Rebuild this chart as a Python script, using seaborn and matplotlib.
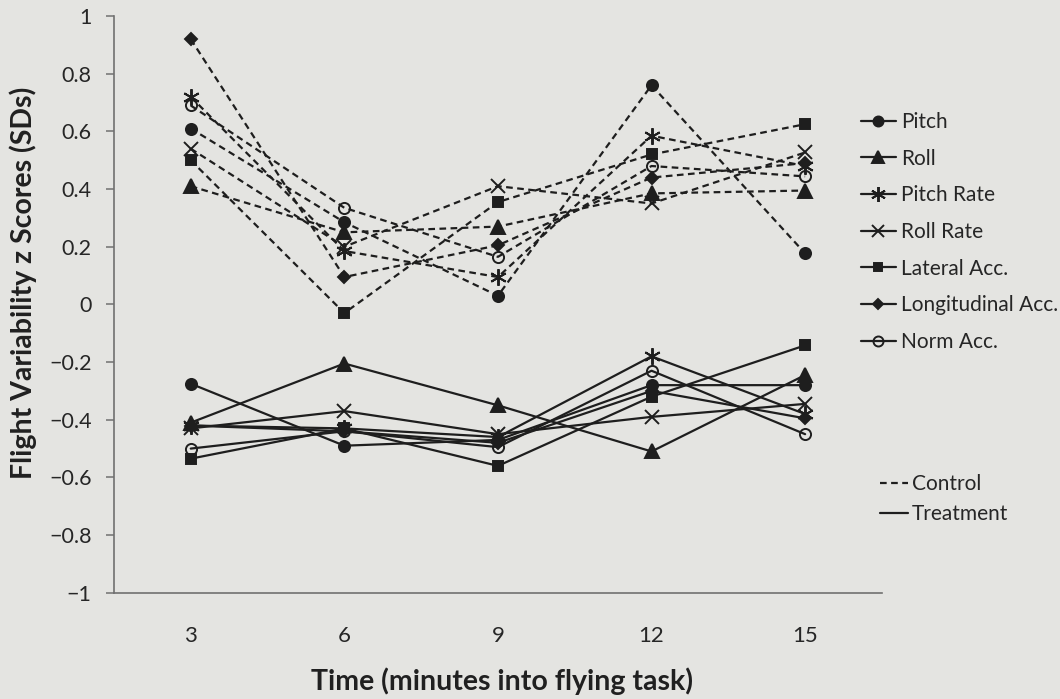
import numpy as np
import pandas as pd
import seaborn as sns
import matplotlib.pyplot as plt
from matplotlib.lines import Line2D

# minutes into the flying task
times = [3, 6, 9, 12, 15]
measures = ["Pitch", "Roll", "Pitch Rate", "Roll Rate", "Lateral Acc.",
            "Longitudinal Acc.", "Norm Acc."]

# control group (dashed lines)
control_pitch = [0.61, 0.285, 0.03, 0.76, 0.177]
control_roll = [0.41, 0.25, 0.27, 0.385, 0.395]
control_pitch_rate = [0.72, 0.185, 0.095, 0.585, 0.48]
control_roll_rate = [0.54, 0.20, 0.41, 0.35, 0.527]
control_lateral = [0.50, -0.03, 0.355, 0.52, 0.625]
control_longitudinal = [0.92, 0.095, 0.205, 0.44, 0.49]
control_norm = [0.69, 0.335, 0.165, 0.48, 0.444]

# treatment group (solid lines)
treat_pitch = [-0.275, -0.49, -0.47, -0.28, -0.28]
treat_roll = [-0.41, -0.205, -0.35, -0.51, -0.245]
treat_pitch_rate = [-0.42, -0.43, -0.46, -0.18, -0.38]
treat_roll_rate = [-0.43, -0.37, -0.45, -0.39, -0.345]
treat_lateral = [-0.535, -0.43, -0.56, -0.32, -0.142]
treat_longitudinal = [-0.42, -0.44, -0.48, -0.30, -0.395]
treat_norm = [-0.50, -0.44, -0.495, -0.23, -0.45]

y_ticks = [1, 0.8, 0.6, 0.4, 0.2, 0, -0.2, -0.4, -0.6, -0.8, -1]
y_tick_labels = ["1", "0.8", "0.6", "0.4", "0.2", "0", "\u22120.2", "\u22120.4",
                 "\u22120.6", "\u22120.8", "\u22121"]

control = [control_pitch, control_roll, control_pitch_rate, control_roll_rate,
           control_lateral, control_longitudinal, control_norm]
treatment = [treat_pitch, treat_roll, treat_pitch_rate, treat_roll_rate,
             treat_lateral, treat_longitudinal, treat_norm]

rows = []
for group, block in [("Control", control), ("Treatment", treatment)]:
    for m, vals in zip(measures, block):
        for t, v in zip(times, vals):
            rows.append({"group": group, "measure": m, "time": t, "z": v})
df = pd.DataFrame(rows)

sns.set_style("white")
plt.rcParams["font.family"] = ["Lato", "DejaVu Sans"]

bg = "#e4e4e1"
ink = "#1e1e1e"

# marker style for each measure: (marker, size, filled)
marker_style = {
    "Pitch": ("o", 8, True),
    "Roll": ("^", 9.5, True),
    "Pitch Rate": ((6, 2, 0), 12, False),
    "Roll Rate": ("x", 10, False),
    "Lateral Acc.": ("s", 7, True),
    "Longitudinal Acc.": ("D", 6, True),
    "Norm Acc.": ("o", 8, False),
}
line_style = {"Control": (0, (3, 2)), "Treatment": "-"}

fig = plt.figure(figsize=(10.6, 6.99), dpi=100, facecolor=bg)
ax = fig.add_axes([0.1075, 0.152, 0.7245, 0.825])
ax.set_facecolor(bg)

for group in ["Control", "Treatment"]:
    for m in measures:
        sub = df[(df.group == group) & (df.measure == m)]
        mk, ms, filled = marker_style[m]
        sns.lineplot(data=sub, x="time", y="z", ax=ax, color=ink,
                     linestyle=line_style[group], linewidth=1.6,
                     marker=mk, markersize=ms,
                     mfc=ink if filled else "none", mec=ink, mew=1.4,
                     legend=False)

ax.set_xlim(1.5, 16.5)
ax.set_ylim(-1, 1)
ax.set_xticks(times)
ax.set_xticklabels([str(t) for t in times])
ax.set_xticks([4.5, 7.5, 10.5, 13.5], minor=True)
ax.set_yticks(y_ticks)
ax.set_yticklabels(y_tick_labels)

for s in ["top", "right"]:
    ax.spines[s].set_visible(False)
for s in ["left", "bottom"]:
    ax.spines[s].set_color("#707070")
    ax.spines[s].set_linewidth(1.2)

ax.tick_params(axis="x", which="major", length=0, pad=24, labelsize=16,
               labelcolor="#262626")
ax.tick_params(axis="x", which="minor", length=5, width=1.1, color="#707070",
               direction="out")
ax.tick_params(axis="y", length=6, width=1.1, color="#707070", pad=10,
               labelsize=15.5, labelcolor="#262626", left=True)

ax.set_xlabel("Time (minutes into flying task)", fontsize=20.5,
              fontweight="bold", color="#202020")
ax.set_ylabel("Flight Variability z Scores (SDs)", fontsize=20.5,
              fontweight="bold", color="#202020")
ax.xaxis.set_label_coords(0.505, -0.13)
ax.yaxis.set_label_coords(-0.1, 0.537)

# legend for measures
handles = []
for m in measures:
    mk, ms, filled = marker_style[m]
    handles.append(Line2D([], [], color=ink, linewidth=1.6, marker=mk,
                          markersize=ms * 0.9, mfc=ink if filled else "none",
                          mec=ink, mew=1.4))
leg1 = fig.legend(handles, measures, loc="upper left",
                  bbox_to_anchor=(0.812, 0.840), frameon=False, fontsize=15,
                  handlelength=1.7, handletextpad=0.25, labelspacing=0.8,
                  borderpad=0, borderaxespad=0)

# legend for groups
group_handles = [Line2D([], [], color=ink, linewidth=1.6, linestyle=line_style[g])
                 for g in ["Control", "Treatment"]]
leg2 = fig.legend(group_handles, ["Control", "Treatment"], loc="upper left",
                  bbox_to_anchor=(0.83, 0.322), frameon=False, fontsize=15,
                  handlelength=1.35, handletextpad=0.2, labelspacing=0.5,
                  borderpad=0, borderaxespad=0)

fig.savefig("out.png", dpi=100, facecolor=bg)
